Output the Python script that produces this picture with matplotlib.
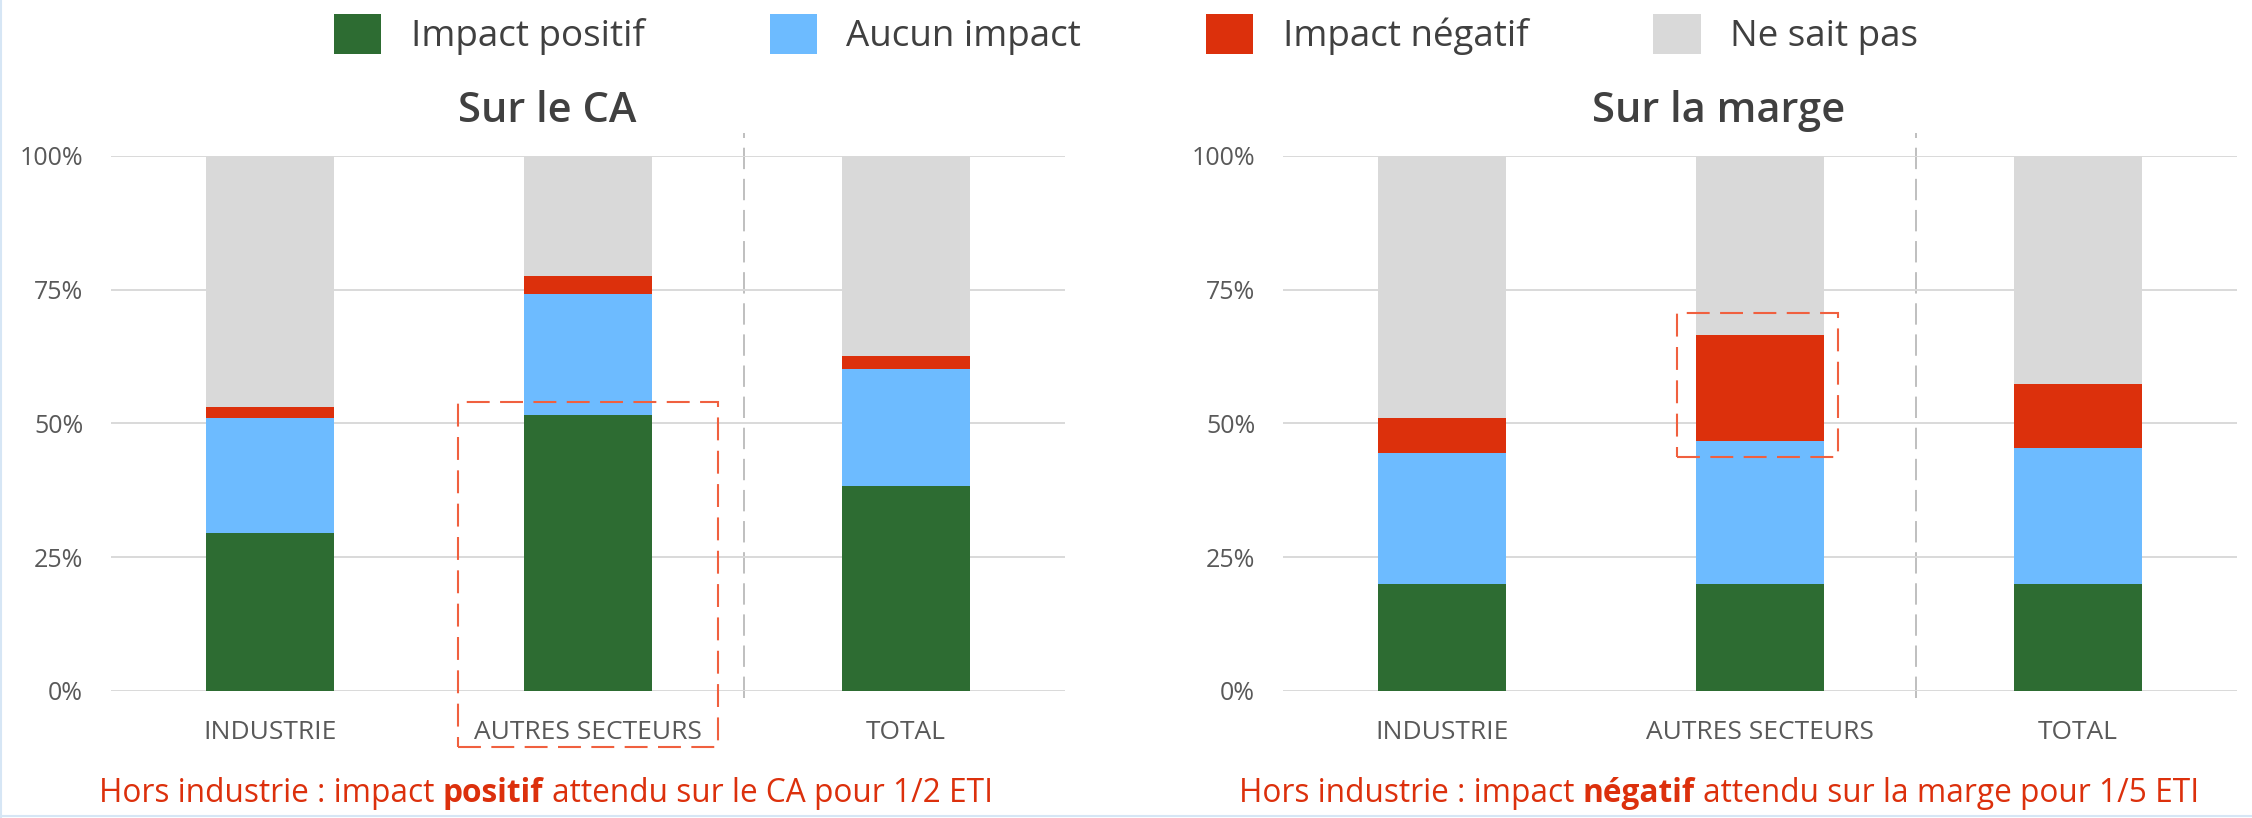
import matplotlib
matplotlib.use("Agg")
import matplotlib.pyplot as plt
from matplotlib.patches import Rectangle, Patch
from matplotlib.lines import Line2D
from matplotlib.ticker import FuncFormatter

plt.rcParams["font.family"] = ["Open Sans", "DejaVu Sans"]

categories = ["INDUSTRIE", "AUTRES SECTEURS", "TOTAL"]
series_names = ["Impact positif", "Aucun impact", "Impact négatif", "Ne sait pas"]
series_colors = ["#2D6C32", "#6DBBFF", "#DC300C", "#D9D9D9"]

# Sur le CA (%)
ca_positif = [29.6, 51.5, 38.4]
ca_aucun = [21.4, 22.7, 21.8]
ca_negatif = [2.1, 3.3, 2.5]
ca_nsp = [46.9, 22.5, 37.3]

# Sur la marge (%)
marge_positif = [20.0, 20.0, 20.0]
marge_aucun = [24.5, 26.8, 25.4]
marge_negatif = [6.6, 19.8, 12.0]
marge_nsp = [48.9, 33.4, 42.6]

TEXT_GREY = "#595959"
HIGHLIGHT = "#F0603F"
NOTE_RED = "#DC300C"


def draw_panel(ax, series, title):
    x = list(range(len(categories)))
    bottom = [0.0] * len(categories)
    for values, name, color in zip(series, series_names, series_colors):
        ax.bar(x, values, width=0.4, bottom=bottom, color=color, label=name,
               edgecolor="none", zorder=3)
        bottom = [b + v for b, v in zip(bottom, values)]

    ax.set_xlim(-0.5, len(categories) - 0.5)
    ax.set_ylim(0, 100)
    ax.set_yticks([0, 25, 50, 75, 100])
    ax.yaxis.set_major_formatter(FuncFormatter(lambda v, p: f"{v:.0f}%"))
    ax.set_xticks(x)
    ax.set_xticklabels(categories)
    ax.grid(axis="y", color="#D9D9D9", linewidth=1.4, zorder=0)
    ax.tick_params(axis="y", length=0, pad=20, labelsize=18, labelcolor=TEXT_GREY)
    ax.tick_params(axis="x", length=0, pad=21, labelsize=19, labelcolor=TEXT_GREY)
    for spine in ax.spines.values():
        spine.set_visible(False)

    # separation before TOTAL
    ax.plot([1.49, 1.49], [-1.3, 104.3], color="#BFBFBF", linewidth=1.4,
            linestyle=(0, (11, 5)), clip_on=False, zorder=1)

    ax.text(0.457, 1.0636, title, transform=ax.transAxes, ha="center",
            va="baseline", fontsize=30, fontweight="semibold", color="#404040")


def mixed_note(fig, x_center, y, parts, color, size):
    renderer = fig.canvas.get_renderer()
    fig_w = fig.bbox.width
    texts = []
    for text, weight in parts:
        t = fig.text(0, y, text, fontsize=size, fontweight=weight, color=color,
                     va="baseline", ha="left")
        texts.append(t)
    a = fig.text(0, 0, "x x", fontsize=size)
    b = fig.text(0, 0, "xx", fontsize=size)
    space = a.get_window_extent(renderer).width - b.get_window_extent(renderer).width
    a.remove()
    b.remove()
    widths = [t.get_window_extent(renderer).width for t in texts]
    total = sum(widths) + space * (len(texts) - 1)
    pos = x_center * fig_w - total / 2
    for t, w in zip(texts, widths):
        t.set_x(pos / fig_w)
        pos += w + space


fig = plt.figure(figsize=(22.52, 8.18), dpi=100)
ax1 = fig.add_axes([0.0493, 0.1553, 0.4236, 0.654])
ax2 = fig.add_axes([0.5697, 0.1553, 0.4236, 0.654])

draw_panel(ax1, [ca_positif, ca_aucun, ca_negatif, ca_nsp], "Sur le CA")
draw_panel(ax2, [marge_positif, marge_aucun, marge_negatif, marge_nsp], "Sur la marge")

# highlight boxes on AUTRES SECTEURS
ax1.add_patch(Rectangle((1 - 0.41, -10.5), 0.82, ca_positif[1] + 2.5 + 10.5,
                        fill=False, edgecolor=HIGHLIGHT, linewidth=1.5,
                        linestyle=(0, (11, 5)), clip_on=False, zorder=4))
low = marge_positif[1] + marge_aucun[1] - 3.0
high = marge_positif[1] + marge_aucun[1] + marge_negatif[1] + 4.1
ax2.add_patch(Rectangle((1 - 0.26, low), 0.505, high - low,
                        fill=False, edgecolor=HIGHLIGHT, linewidth=1.5,
                        linestyle=(0, (11, 5)), clip_on=False, zorder=4))

handles = [Patch(facecolor=c, edgecolor="none") for c in series_colors]
fig.legend(handles, series_names, loc="upper center", bbox_to_anchor=(0.5, 0.983),
           ncol=4, frameon=False, fontsize=26.5, handlelength=1.28,
           handleheight=1.28, handletextpad=0.8, columnspacing=3.4,
           labelcolor="#404040", borderaxespad=0, borderpad=0)

mixed_note(fig, 546 / 2252, 0.020,
           [("Hors industrie : impact", "normal"), ("positif", "bold"),
            ("attendu sur le CA pour 1/2 ETI", "normal")], NOTE_RED, 22.8)
mixed_note(fig, 1719 / 2252, 0.020,
           [("Hors industrie : impact", "normal"), ("négatif", "bold"),
            ("attendu sur la marge pour 1/5 ETI", "normal")], NOTE_RED, 22.8)

# light frame on left and bottom edges
fig.add_artist(Line2D([0.0005, 0.0005], [0, 1], color="#D6E6F5", linewidth=1.5))
fig.add_artist(Line2D([0, 1], [0.003, 0.003], color="#D6E6F5", linewidth=1.5))

plt.savefig("out.png", dpi=100)
